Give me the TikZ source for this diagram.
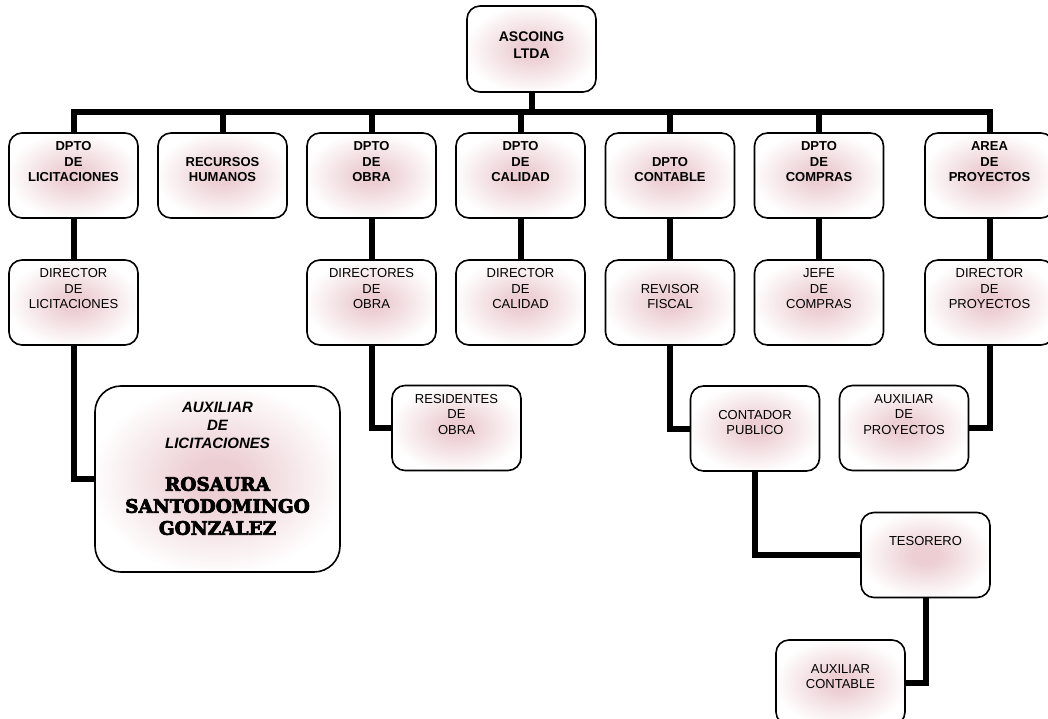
\documentclass[tikz,border=0pt]{standalone}
\usepackage{fontspec}
\setmainfont{Liberation Sans}
\newfontface\namefont[FakeBold=4]{DejaVu Serif Bold}
\definecolor{glow}{RGB}{236,206,211}
\pgfdeclareradialshading{boxglow}{\pgfpoint{0bp}{0bp}}{color(0bp)=(glow);color(5bp)=(glow);color(26bp)=(white);color(50bp)=(white)}
\tikzset{
  unit/.style={draw, line width=1.6pt, rounded corners=13pt, shading=boxglow,
    inner sep=0pt, minimum width=129pt, align=center,
    font=\fontsize{13}{15.3}\selectfont, text height=48.5pt, text depth=36.5pt},
  head/.style={unit, font=\bfseries\fontsize{13}{15.3}\selectfont},
  link/.style={line width=6pt}
}

\begin{document}
\begin{tikzpicture}[x=1pt,y=-1pt]
   \useasboundingbox (0,0) rectangle (1048,719);
   \clip (0,0) rectangle (1048,719);
   \node[head, font=\bfseries\fontsize{14}{17}\selectfont, text height=52.3pt, text depth=33.7pt] (top) at (531.5,49) {ASCOING\\LTDA};
   \node[head] (lic) at (73.5,175.5) {DPTO\\DE\\LICITACIONES};
   \node[head] (rrhh) at (222.5,175.5) {RECURSOS\\HUMANOS};
   \node[head] (obra) at (371.5,175.5) {DPTO\\DE\\OBRA};
   \node[head] (cal) at (520.5,175.5) {DPTO\\DE\\CALIDAD};
   \node[head] (cont) at (670,175.5) {DPTO\\CONTABLE};
   \node[head] (comp) at (819,175.5) {DPTO\\DE\\COMPRAS};
   \node[head] (area) at (989.5,175.5) {AREA\\DE\\PROYECTOS};
   \node[unit] (dirlic) at (73.5,302.5) {DIRECTOR\\DE\\LICITACIONES};
   \node[unit] (dirobra) at (371.5,302.5) {DIRECTORES\\DE\\OBRA};
   \node[unit] (dircal) at (520.5,302.5) {DIRECTOR\\DE\\CALIDAD};
   \node[unit] (revisor) at (670,302.5) {REVISOR\\FISCAL};
   \node[unit] (jefe) at (819,302.5) {JEFE\\DE\\COMPRAS};
   \node[unit] (dirproy) at (989.5,302.5) {DIRECTOR\\DE\\PROYECTOS};
   \node[unit] (resid) at (456.5,428) {RESIDENTES\\DE\\OBRA};
   \node[unit] (contador) at (755,428.5) {CONTADOR\\PUBLICO};
   \node[unit] (auxproy) at (904,428) {AUXILIAR\\DE\\PROYECTOS};
   \node[unit, text height=33pt, text depth=52pt] (tes) at (925.5,555) {TESORERO};
   \node[unit] (auxcont) at (840.5,682.5) {AUXILIAR\\CONTABLE};
   \node[unit, rounded corners=26pt, minimum width=245pt, text height=62.4pt, text depth=123.6pt,
     font=\bfseries\itshape\fontsize{15}{18}\selectfont] (aux) at (217.5,479) {AUXILIAR\\DE\\LICITACIONES};
   \node[font=\namefont\fontsize{18.5}{22}\selectfont, align=center, inner sep=0pt] (auxname) at (217.5,506) {ROSAURA\\SANTODOMINGO\\GONZALEZ};
   \coordinate (bus) at (531.5,112);
   \draw[link] (top.south) -- (bus);
   \draw[link] (lic.north) -- (lic.north |- bus) -- (area.north |- bus) -- (area.north);
   \foreach \d in {rrhh,obra,cal,cont,comp}
      \draw[link] (\d.north) -- (\d.north |- bus);
   \foreach \a/\b in {lic/dirlic,obra/dirobra,cal/dircal,cont/revisor,comp/jefe,area/dirproy}
      \draw[link] (\a.south) -- (\b.north);
   \draw[link] (dirlic.south) |- (aux.west);
   \draw[link] (dirobra.south) |- (resid.west);
   \draw[link] (revisor.south) |- (contador.west);
   \draw[link] (dirproy.south) |- (auxproy.east);
   \draw[link] (contador.south) |- (tes.west);
   \draw[link] (tes.south) |- (auxcont.east);
\end{tikzpicture}
\end{document}
